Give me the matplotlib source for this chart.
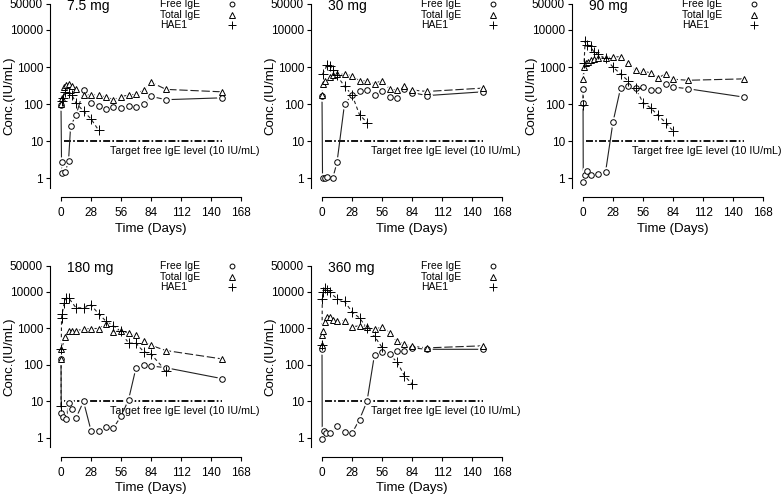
import numpy as np
import matplotlib.pyplot as plt

plt.rcParams['font.family'] = ['Liberation Sans', 'DejaVu Sans']
plt.rcParams['lines.scale_dashes'] = False

# panel titles
doses = ['7.5 mg', '30 mg', '90 mg', '180 mg', '360 mg']

x_ticks = [0, 28, 56, 84, 112, 140, 168]
y_ticks = [1, 10, 100, 1000, 10000, 50000]
y_ticklabels = ['1', '10', '100', '1000', '10000', '50000']

target_x = [3, 150]
target_y = [10, 10]
target_label = 'Target free IgE level (10 IU/mL)'
legend_labels = ['Free IgE', 'Total IgE', 'HAE1']

# 7.5 mg
free_x_7 = [0, 0.5, 1, 4, 7, 9, 14, 21, 28, 35, 42, 49, 56, 63, 70, 77, 84, 98, 150]
free_y_7 = [92, 2.7, 1.4, 1.5, 2.9, 26, 50, 235, 108, 87, 72, 84, 79, 91, 83, 100, 162, 132, 148]
total_x_7 = [0, 1, 3, 5, 7, 10, 14, 21, 28, 35, 42, 49, 56, 63, 70, 77, 84, 98, 150]
total_y_7 = [100, 150, 290, 330, 340, 300, 260, 175, 178, 175, 155, 133, 160, 175, 185, 240, 390, 250, 215]
hae_x_7 = [0.5, 2, 4, 7, 10, 14, 21, 28, 35]
hae_y_7 = [120, 145, 215, 200, 180, 107, 65, 40, 20]

# 30 mg
free_x_30 = [0, 0.5, 3, 5, 10, 14, 21, 28, 35, 42, 49, 56, 63, 70, 77, 84, 98, 150]
free_y_30 = [170, 1.0, 1.0, 1.1, 1.0, 2.7, 100, 175, 220, 245, 175, 230, 160, 150, 255, 205, 170, 215]
total_x_30 = [0, 1, 3, 7, 10, 14, 21, 28, 35, 42, 49, 56, 63, 70, 77, 84, 98, 150]
total_y_30 = [175, 360, 420, 530, 600, 640, 640, 580, 420, 420, 360, 430, 260, 235, 300, 240, 220, 270]
hae_x_30 = [0.5, 5, 7, 10, 14, 21, 28, 35, 42]
hae_y_30 = [640, 1150, 1100, 850, 600, 300, 180, 52, 32]

# 90 mg
free_x_90 = [0, 0.04, 0.25, 2, 4, 7, 14, 21, 28, 35, 42, 49, 56, 63, 70, 77, 84, 98, 150]
free_y_90 = [250, 110, 0.8, 1.2, 1.6, 1.2, 1.3, 1.45, 33, 265, 300, 265, 290, 235, 235, 340, 290, 260, 155]
total_x_90 = [0, 1, 3, 5, 7, 10, 14, 21, 28, 35, 42, 49, 56, 63, 70, 77, 84, 98, 150]
total_y_90 = [470, 1000, 1300, 1400, 1550, 1650, 1750, 1800, 1850, 1900, 1250, 820, 770, 700, 510, 650, 470, 440, 480]
hae_x_90 = [0, 1, 2, 4, 7, 10, 14, 21, 28, 35, 42, 49, 56, 63, 70, 77, 84]
hae_y_90 = [92, 1300, 5000, 4000, 3600, 2600, 2200, 1700, 1000, 650, 430, 270, 110, 80, 50, 32, 19]

# 180 mg
free_x_180 = [0, 0.25, 2, 5, 7, 10, 14, 21, 28, 35, 42, 49, 56, 63, 70, 77, 84, 98, 150]
free_y_180 = [145, 4.7, 3.8, 3.4, 9, 6.3, 3.5, 10, 1.6, 1.6, 2.0, 1.9, 3.9, 11, 83, 100, 93, 83, 42]
total_x_180 = [0, 0.25, 4, 7, 10, 14, 21, 28, 35, 42, 49, 56, 63, 70, 77, 84, 98, 150]
total_y_180 = [145, 270, 560, 850, 860, 860, 930, 980, 980, 1300, 800, 840, 740, 660, 440, 340, 245, 145]
hae_x_180 = [0, 0.25, 0.5, 1, 3, 5, 7, 14, 21, 28, 35, 42, 49, 56, 63, 70, 77, 84, 98]
hae_y_180 = [7.5, 270, 1900, 2400, 4800, 6600, 6800, 3600, 3600, 4300, 2500, 1550, 1150, 820, 390, 390, 230, 195, 68]

# 360 mg
free_x_360 = [0, 0.25, 2, 4, 7, 14, 21, 28, 35, 42, 49, 56, 63, 70, 77, 84, 98, 150]
free_y_360 = [270, 0.93, 1.6, 1.35, 1.4, 2.1, 1.5, 1.35, 3.2, 10, 190, 225, 200, 240, 235, 290, 265, 265]
total_x_360 = [0, 0.25, 1, 3, 5, 7, 10, 14, 21, 28, 35, 42, 49, 56, 63, 70, 77, 84, 98, 150]
total_y_360 = [350, 650, 850, 1500, 2000, 2000, 1700, 1600, 1600, 1100, 1150, 1050, 950, 1050, 750, 440, 360, 320, 290, 330]
hae_x_360 = [0, 0.25, 1, 3, 5, 7, 14, 21, 28, 35, 42, 49, 56, 70, 77, 84]
hae_y_360 = [340, 6200, 9800, 12500, 11000, 9800, 6400, 5400, 2800, 1900, 1000, 600, 300, 120, 50, 30]

panels = [
    (free_x_7, free_y_7, total_x_7, total_y_7, hae_x_7, hae_y_7),
    (free_x_30, free_y_30, total_x_30, total_y_30, hae_x_30, hae_y_30),
    (free_x_90, free_y_90, total_x_90, total_y_90, hae_x_90, hae_y_90),
    (free_x_180, free_y_180, total_x_180, total_y_180, hae_x_180, hae_y_180),
    (free_x_360, free_y_360, total_x_360, total_y_360, hae_x_360, hae_y_360),
]

W, H = 782, 499
fig = plt.figure(figsize=(W / 100, H / 100), dpi=100)

# axes boxes in pixels: left, top, bottom
lefts = [61, 322, 583, 61, 322]
tops = [4, 4, 4, 266, 266]
bottoms = [188, 188, 188, 447.5, 447.5]

styles = [
    dict(marker='o', ms=4.0, ls='-'),
    dict(marker='^', ms=4.5, ls=(0, (6, 2))),
    dict(marker='+', ms=6.5, ls=(0, (2.5, 2))),
]
legend_rows = [1.0, 0.942, 0.884]


def draw_panel(ax, title, data):
    fx, fy, tx, ty, hx, hy = data
    ax.set_yscale('log')
    ax.plot(target_x, target_y, color='black', lw=1.3,
            ls=(0, (5, 1.6, 1.2, 1.6)), zorder=1)
    series = [(fx, fy), (tx, ty), (hx, hy)]
    for (xs, ys), st in zip(series, styles):
        ax.plot(xs, ys, color='#222222', lw=0.8, ls=st['ls'], zorder=2, clip_on=False)
    for (xs, ys), st in zip(series, styles):
        if st['marker'] != '+':
            ax.plot(xs, ys, ls='none', marker=st['marker'], ms=st['ms'] + 2.5,
                    mfc='white', mec='white', zorder=3, clip_on=False)
    for (xs, ys), st in zip(series, styles):
        ax.plot(xs, ys, ls='none', marker=st['marker'], ms=st['ms'],
                mfc='white', mec='black', mew=0.7, zorder=4, clip_on=False)

    ax.text(46, 5.3, target_label, fontsize=7.7, va='center', ha='left')
    ax.text(0.035, 0.99, title, transform=ax.transAxes, fontsize=10,
            va='center', ha='left')

    # key: labels left aligned, symbols in a column at the right
    for lab, st, yy in zip(legend_labels, styles, legend_rows):
        ax.text(0.55, yy, lab, transform=ax.transAxes, fontsize=7.5,
                va='center', ha='left')
        ax.plot([0.95], [yy], transform=ax.transAxes, ls='none',
                marker=st['marker'], ms=st['ms'] - 0.5, mfc='white',
                mec='black', mew=0.7, clip_on=False)

    ax.set_xlim(0, 168)
    ax.set_ylim(0.55, 50000)
    ax.set_xticks(x_ticks)
    ax.set_xticklabels([str(t) for t in x_ticks])
    ax.set_yticks(y_ticks)
    ax.set_yticklabels(y_ticklabels)
    ax.yaxis.set_minor_locator(plt.NullLocator())
    for s in ['top', 'right']:
        ax.spines[s].set_visible(False)
    ax.spines['left'].set_position(('outward', 7.9))
    ax.spines['bottom'].set_position(('outward', 6.5))
    ax.spines['bottom'].set_bounds(0, 168)
    ax.tick_params(direction='out', length=3, width=0.8, labelsize=8.5)
    ax.tick_params(axis='y', pad=2)
    ax.tick_params(axis='x', pad=4.5)
    ax.set_xlabel('Time (Days)', fontsize=9.5)
    ax.set_ylabel('Conc.(IU/mL)', fontsize=9.5)
    ax.yaxis.set_label_coords(-0.255, 0.5)
    ax.xaxis.set_label_coords(0.5, -0.19)
    ax.patch.set_visible(False)


for i, title in enumerate(doses):
    l, t, b = lefts[i], tops[i], bottoms[i]
    ax = fig.add_axes([l / W, 1 - b / H, 180 / W, (b - t) / H])
    draw_panel(ax, title, panels[i])

fig.savefig('out.png', dpi=100)
